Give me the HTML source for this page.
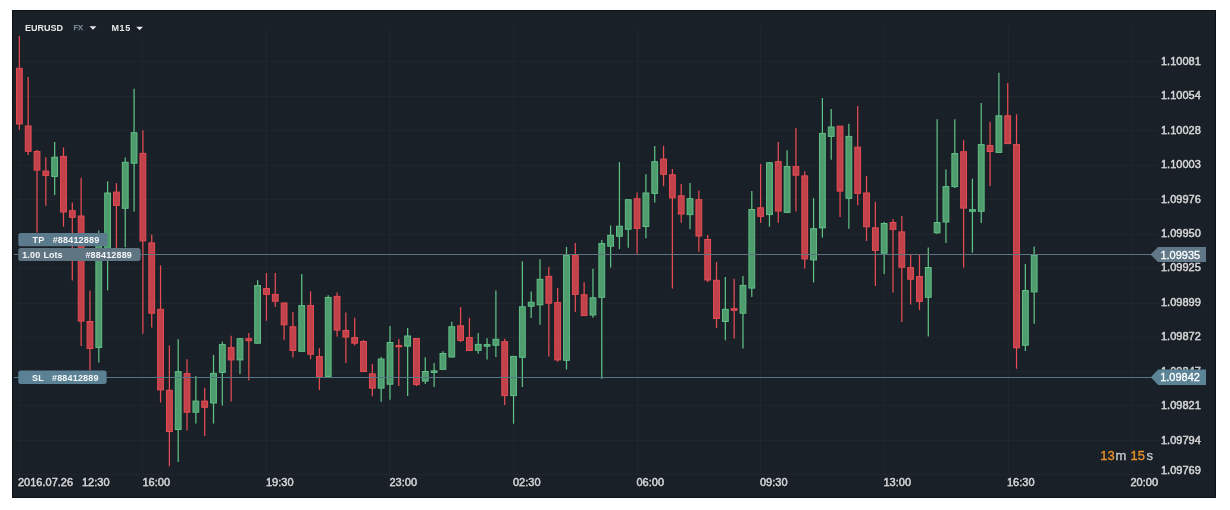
<!DOCTYPE html>
<html><head><meta charset="utf-8"><style>
html,body{margin:0;padding:0;background:#ffffff;width:1230px;height:510px;overflow:hidden}
#chart{position:absolute;left:12px;top:10px;width:1204px;height:488px;background:#1a2027;box-shadow:inset 0 0 0 1px #0c1116;}
svg{position:absolute;left:0;top:0;will-change:transform}
text{font-family:"Liberation Sans",sans-serif}
.ax{font-size:11px;fill:#d2d4d6;stroke:#d2d4d6;stroke-width:0.4px}
.lb{font-size:9px;font-weight:bold;fill:#f4f6f7;letter-spacing:0.18px}
</style></head><body>
<div id="chart"></div>
<svg width="1230" height="510" viewBox="0 0 1230 510">
<defs><filter id="sh" x="-10%" y="-30%" width="120%" height="160%"><feDropShadow dx="0" dy="0.6" stdDeviation="0.6" flood-color="#000" flood-opacity="0.7"/></filter></defs>
<line x1="15" y1="61.5" x2="1159" y2="61.5" stroke="#1f262c" stroke-width="1"/>
<line x1="15" y1="96.5" x2="1159" y2="96.5" stroke="#1f262c" stroke-width="1"/>
<line x1="15" y1="130.5" x2="1159" y2="130.5" stroke="#1f262c" stroke-width="1"/>
<line x1="15" y1="165.5" x2="1159" y2="165.5" stroke="#1f262c" stroke-width="1"/>
<line x1="15" y1="199.5" x2="1159" y2="199.5" stroke="#1f262c" stroke-width="1"/>
<line x1="15" y1="234.5" x2="1159" y2="234.5" stroke="#1f262c" stroke-width="1"/>
<line x1="15" y1="268.5" x2="1159" y2="268.5" stroke="#1f262c" stroke-width="1"/>
<line x1="15" y1="303.5" x2="1159" y2="303.5" stroke="#1f262c" stroke-width="1"/>
<line x1="15" y1="337.5" x2="1159" y2="337.5" stroke="#1f262c" stroke-width="1"/>
<line x1="15" y1="371.5" x2="1159" y2="371.5" stroke="#1f262c" stroke-width="1"/>
<line x1="15" y1="405.5" x2="1159" y2="405.5" stroke="#1f262c" stroke-width="1"/>
<line x1="15" y1="440.5" x2="1159" y2="440.5" stroke="#1f262c" stroke-width="1"/>
<line x1="15" y1="474.5" x2="1159" y2="474.5" stroke="#1f262c" stroke-width="1"/>
<line x1="19.5" y1="27" x2="19.5" y2="474.5" stroke="#1f262c" stroke-width="1"/>
<line x1="142.5" y1="27" x2="142.5" y2="474.5" stroke="#1f262c" stroke-width="1"/>
<line x1="266.5" y1="27" x2="266.5" y2="474.5" stroke="#1f262c" stroke-width="1"/>
<line x1="389.5" y1="27" x2="389.5" y2="474.5" stroke="#1f262c" stroke-width="1"/>
<line x1="513.5" y1="27" x2="513.5" y2="474.5" stroke="#1f262c" stroke-width="1"/>
<line x1="637.5" y1="27" x2="637.5" y2="474.5" stroke="#1f262c" stroke-width="1"/>
<line x1="760.5" y1="27" x2="760.5" y2="474.5" stroke="#1f262c" stroke-width="1"/>
<line x1="884.5" y1="27" x2="884.5" y2="474.5" stroke="#1f262c" stroke-width="1"/>
<line x1="1008.5" y1="27" x2="1008.5" y2="474.5" stroke="#1f262c" stroke-width="1"/>
<line x1="1131.5" y1="27" x2="1131.5" y2="474.5" stroke="#1f262c" stroke-width="1"/>
<rect x="22" y="17" width="140" height="21" fill="#1a2027"/>
<line x1="19.36" y1="35.9" x2="19.36" y2="129.8" stroke="#e64c53" stroke-width="1.25"/>
<rect x="16.46" y="68.3" width="5.80" height="55.7" fill="#c1424a" stroke="#e64c53" stroke-width="1"/>
<line x1="28.18" y1="77.0" x2="28.18" y2="154.9" stroke="#e64c53" stroke-width="1.25"/>
<rect x="25.28" y="126.0" width="5.80" height="25.3" fill="#c1424a" stroke="#e64c53" stroke-width="1"/>
<line x1="37.01" y1="149.8" x2="37.01" y2="232.5" stroke="#e64c53" stroke-width="1.25"/>
<rect x="34.11" y="151.5" width="5.80" height="18.6" fill="#c1424a" stroke="#e64c53" stroke-width="1"/>
<line x1="45.83" y1="157.3" x2="45.83" y2="205.7" stroke="#e64c53" stroke-width="1.25"/>
<rect x="42.93" y="171.1" width="5.80" height="4.3" fill="#c1424a" stroke="#e64c53" stroke-width="1"/>
<line x1="54.66" y1="142.0" x2="54.66" y2="195.1" stroke="#60c085" stroke-width="1.25"/>
<rect x="51.76" y="157.2" width="5.80" height="19.2" fill="#4f9c6e" stroke="#60c085" stroke-width="1"/>
<line x1="63.48" y1="147.5" x2="63.48" y2="226.7" stroke="#e64c53" stroke-width="1.25"/>
<rect x="60.58" y="156.4" width="5.80" height="55.6" fill="#c1424a" stroke="#e64c53" stroke-width="1"/>
<line x1="72.31" y1="202.4" x2="72.31" y2="280.6" stroke="#e64c53" stroke-width="1.25"/>
<rect x="69.41" y="210.7" width="5.80" height="6.6" fill="#c1424a" stroke="#e64c53" stroke-width="1"/>
<line x1="81.13" y1="177.8" x2="81.13" y2="346.1" stroke="#e64c53" stroke-width="1.25"/>
<rect x="78.23" y="216.0" width="5.80" height="105.1" fill="#c1424a" stroke="#e64c53" stroke-width="1"/>
<line x1="89.96" y1="290.4" x2="89.96" y2="370.6" stroke="#e64c53" stroke-width="1.25"/>
<rect x="87.06" y="321.5" width="5.80" height="27.0" fill="#c1424a" stroke="#e64c53" stroke-width="1"/>
<line x1="98.78" y1="230.6" x2="98.78" y2="362.4" stroke="#60c085" stroke-width="1.25"/>
<rect x="95.88" y="240.5" width="5.80" height="107.0" fill="#4f9c6e" stroke="#60c085" stroke-width="1"/>
<line x1="107.61" y1="181.4" x2="107.61" y2="290.4" stroke="#60c085" stroke-width="1.25"/>
<rect x="104.71" y="193.0" width="5.80" height="56.5" fill="#4f9c6e" stroke="#60c085" stroke-width="1"/>
<line x1="116.43" y1="183.1" x2="116.43" y2="248.0" stroke="#e64c53" stroke-width="1.25"/>
<rect x="113.53" y="192.1" width="5.80" height="13.3" fill="#c1424a" stroke="#e64c53" stroke-width="1"/>
<line x1="125.26" y1="157.6" x2="125.26" y2="247.3" stroke="#60c085" stroke-width="1.25"/>
<rect x="122.36" y="162.3" width="5.80" height="46.0" fill="#4f9c6e" stroke="#60c085" stroke-width="1"/>
<line x1="134.08" y1="88.8" x2="134.08" y2="211.6" stroke="#60c085" stroke-width="1.25"/>
<rect x="131.18" y="132.7" width="5.80" height="30.5" fill="#4f9c6e" stroke="#60c085" stroke-width="1"/>
<line x1="142.90" y1="130.2" x2="142.90" y2="333.7" stroke="#e64c53" stroke-width="1.25"/>
<rect x="140.00" y="153.4" width="5.80" height="87.5" fill="#c1424a" stroke="#e64c53" stroke-width="1"/>
<line x1="151.73" y1="234.5" x2="151.73" y2="327.5" stroke="#e64c53" stroke-width="1.25"/>
<rect x="148.83" y="242.9" width="5.80" height="70.3" fill="#c1424a" stroke="#e64c53" stroke-width="1"/>
<line x1="160.55" y1="265.3" x2="160.55" y2="402.5" stroke="#e64c53" stroke-width="1.25"/>
<rect x="157.65" y="309.3" width="5.80" height="80.6" fill="#c1424a" stroke="#e64c53" stroke-width="1"/>
<line x1="169.38" y1="345.5" x2="169.38" y2="466.3" stroke="#e64c53" stroke-width="1.25"/>
<rect x="166.48" y="390.3" width="5.80" height="41.2" fill="#c1424a" stroke="#e64c53" stroke-width="1"/>
<line x1="178.20" y1="339.2" x2="178.20" y2="462.0" stroke="#60c085" stroke-width="1.25"/>
<rect x="175.30" y="371.7" width="5.80" height="57.8" fill="#4f9c6e" stroke="#60c085" stroke-width="1"/>
<line x1="187.03" y1="359.2" x2="187.03" y2="430.6" stroke="#e64c53" stroke-width="1.25"/>
<rect x="184.13" y="373.6" width="5.80" height="38.6" fill="#c1424a" stroke="#e64c53" stroke-width="1"/>
<line x1="195.85" y1="376.0" x2="195.85" y2="423.5" stroke="#60c085" stroke-width="1.25"/>
<rect x="192.95" y="401.1" width="5.80" height="11.1" fill="#4f9c6e" stroke="#60c085" stroke-width="1"/>
<line x1="204.68" y1="387.8" x2="204.68" y2="435.9" stroke="#e64c53" stroke-width="1.25"/>
<rect x="201.78" y="401.1" width="5.80" height="6.2" fill="#c1424a" stroke="#e64c53" stroke-width="1"/>
<line x1="213.50" y1="354.9" x2="213.50" y2="423.5" stroke="#60c085" stroke-width="1.25"/>
<rect x="210.60" y="373.4" width="5.80" height="29.6" fill="#4f9c6e" stroke="#60c085" stroke-width="1"/>
<line x1="222.33" y1="341.8" x2="222.33" y2="405.5" stroke="#60c085" stroke-width="1.25"/>
<rect x="219.43" y="344.6" width="5.80" height="27.8" fill="#4f9c6e" stroke="#60c085" stroke-width="1"/>
<line x1="231.15" y1="335.7" x2="231.15" y2="401.6" stroke="#e64c53" stroke-width="1.25"/>
<rect x="228.25" y="347.6" width="5.80" height="12.3" fill="#c1424a" stroke="#e64c53" stroke-width="1"/>
<line x1="239.98" y1="338.2" x2="239.98" y2="374.1" stroke="#60c085" stroke-width="1.25"/>
<rect x="237.08" y="338.7" width="5.80" height="21.2" fill="#4f9c6e" stroke="#60c085" stroke-width="1"/>
<line x1="248.80" y1="332.9" x2="248.80" y2="380.4" stroke="#e64c53" stroke-width="1.25"/>
<rect x="245.90" y="338.7" width="5.80" height="2.0" fill="#c1424a" stroke="#e64c53" stroke-width="1"/>
<line x1="257.62" y1="280.2" x2="257.62" y2="343.7" stroke="#60c085" stroke-width="1.25"/>
<rect x="254.72" y="285.6" width="5.80" height="57.6" fill="#4f9c6e" stroke="#60c085" stroke-width="1"/>
<line x1="266.45" y1="273.1" x2="266.45" y2="320.8" stroke="#e64c53" stroke-width="1.25"/>
<rect x="263.55" y="288.5" width="5.80" height="5.9" fill="#c1424a" stroke="#e64c53" stroke-width="1"/>
<line x1="275.27" y1="273.1" x2="275.27" y2="307.1" stroke="#e64c53" stroke-width="1.25"/>
<rect x="272.37" y="294.4" width="5.80" height="6.9" fill="#c1424a" stroke="#e64c53" stroke-width="1"/>
<line x1="284.10" y1="302.5" x2="284.10" y2="340.0" stroke="#e64c53" stroke-width="1.25"/>
<rect x="281.20" y="303.0" width="5.80" height="21.8" fill="#c1424a" stroke="#e64c53" stroke-width="1"/>
<line x1="292.92" y1="312.0" x2="292.92" y2="357.5" stroke="#e64c53" stroke-width="1.25"/>
<rect x="290.02" y="326.8" width="5.80" height="23.7" fill="#c1424a" stroke="#e64c53" stroke-width="1"/>
<line x1="301.75" y1="274.1" x2="301.75" y2="351.8" stroke="#60c085" stroke-width="1.25"/>
<rect x="298.85" y="305.6" width="5.80" height="45.7" fill="#4f9c6e" stroke="#60c085" stroke-width="1"/>
<line x1="310.57" y1="291.4" x2="310.57" y2="359.3" stroke="#e64c53" stroke-width="1.25"/>
<rect x="307.67" y="305.6" width="5.80" height="48.6" fill="#c1424a" stroke="#e64c53" stroke-width="1"/>
<line x1="319.40" y1="348.2" x2="319.40" y2="390.0" stroke="#e64c53" stroke-width="1.25"/>
<rect x="316.50" y="356.6" width="5.80" height="19.8" fill="#c1424a" stroke="#e64c53" stroke-width="1"/>
<line x1="328.22" y1="295.3" x2="328.22" y2="376.9" stroke="#60c085" stroke-width="1.25"/>
<rect x="325.32" y="297.4" width="5.80" height="79.0" fill="#4f9c6e" stroke="#60c085" stroke-width="1"/>
<line x1="337.05" y1="292.4" x2="337.05" y2="336.5" stroke="#e64c53" stroke-width="1.25"/>
<rect x="334.15" y="296.4" width="5.80" height="33.7" fill="#c1424a" stroke="#e64c53" stroke-width="1"/>
<line x1="345.87" y1="312.5" x2="345.87" y2="362.9" stroke="#e64c53" stroke-width="1.25"/>
<rect x="342.97" y="330.5" width="5.80" height="6.5" fill="#c1424a" stroke="#e64c53" stroke-width="1"/>
<line x1="354.69" y1="317.8" x2="354.69" y2="345.6" stroke="#e64c53" stroke-width="1.25"/>
<rect x="351.79" y="337.6" width="5.80" height="5.6" fill="#c1424a" stroke="#e64c53" stroke-width="1"/>
<line x1="363.52" y1="340.0" x2="363.52" y2="372.0" stroke="#e64c53" stroke-width="1.25"/>
<rect x="360.62" y="341.5" width="5.80" height="30.0" fill="#c1424a" stroke="#e64c53" stroke-width="1"/>
<line x1="372.34" y1="363.9" x2="372.34" y2="396.3" stroke="#e64c53" stroke-width="1.25"/>
<rect x="369.44" y="373.8" width="5.80" height="14.3" fill="#c1424a" stroke="#e64c53" stroke-width="1"/>
<line x1="381.17" y1="357.0" x2="381.17" y2="401.8" stroke="#60c085" stroke-width="1.25"/>
<rect x="378.27" y="359.1" width="5.80" height="29.0" fill="#4f9c6e" stroke="#60c085" stroke-width="1"/>
<line x1="389.99" y1="326.1" x2="389.99" y2="399.8" stroke="#60c085" stroke-width="1.25"/>
<rect x="387.09" y="342.5" width="5.80" height="41.7" fill="#4f9c6e" stroke="#60c085" stroke-width="1"/>
<line x1="398.82" y1="339.0" x2="398.82" y2="386.1" stroke="#e64c53" stroke-width="1.25"/>
<rect x="395.92" y="345.5" width="5.80" height="1.3" fill="#c1424a" stroke="#e64c53" stroke-width="1"/>
<line x1="407.64" y1="328.0" x2="407.64" y2="395.9" stroke="#60c085" stroke-width="1.25"/>
<rect x="404.74" y="336.0" width="5.80" height="10.1" fill="#4f9c6e" stroke="#60c085" stroke-width="1"/>
<line x1="416.47" y1="338.0" x2="416.47" y2="386.0" stroke="#e64c53" stroke-width="1.25"/>
<rect x="413.57" y="338.5" width="5.80" height="46.1" fill="#c1424a" stroke="#e64c53" stroke-width="1"/>
<line x1="425.29" y1="357.3" x2="425.29" y2="384.1" stroke="#60c085" stroke-width="1.25"/>
<rect x="422.39" y="371.5" width="5.80" height="9.6" fill="#4f9c6e" stroke="#60c085" stroke-width="1"/>
<line x1="434.12" y1="363.1" x2="434.12" y2="387.1" stroke="#60c085" stroke-width="1.25"/>
<rect x="431.22" y="370.9" width="5.80" height="1.5" fill="#4f9c6e" stroke="#60c085" stroke-width="1"/>
<line x1="442.94" y1="351.2" x2="442.94" y2="369.8" stroke="#60c085" stroke-width="1.25"/>
<rect x="440.04" y="353.5" width="5.80" height="15.8" fill="#4f9c6e" stroke="#60c085" stroke-width="1"/>
<line x1="451.77" y1="321.8" x2="451.77" y2="357.5" stroke="#60c085" stroke-width="1.25"/>
<rect x="448.87" y="326.8" width="5.80" height="30.2" fill="#4f9c6e" stroke="#60c085" stroke-width="1"/>
<line x1="460.59" y1="307.1" x2="460.59" y2="342.0" stroke="#e64c53" stroke-width="1.25"/>
<rect x="457.69" y="325.8" width="5.80" height="14.6" fill="#c1424a" stroke="#e64c53" stroke-width="1"/>
<line x1="469.41" y1="317.8" x2="469.41" y2="351.0" stroke="#e64c53" stroke-width="1.25"/>
<rect x="466.51" y="337.6" width="5.80" height="12.9" fill="#c1424a" stroke="#e64c53" stroke-width="1"/>
<line x1="478.24" y1="333.0" x2="478.24" y2="353.7" stroke="#60c085" stroke-width="1.25"/>
<rect x="475.34" y="344.4" width="5.80" height="5.9" fill="#4f9c6e" stroke="#60c085" stroke-width="1"/>
<line x1="487.06" y1="338.2" x2="487.06" y2="359.4" stroke="#60c085" stroke-width="1.25"/>
<rect x="484.16" y="344.6" width="5.80" height="1.6" fill="#4f9c6e" stroke="#60c085" stroke-width="1"/>
<line x1="495.89" y1="290.6" x2="495.89" y2="356.9" stroke="#60c085" stroke-width="1.25"/>
<rect x="492.99" y="339.3" width="5.80" height="5.9" fill="#4f9c6e" stroke="#60c085" stroke-width="1"/>
<line x1="504.71" y1="338.8" x2="504.71" y2="405.1" stroke="#e64c53" stroke-width="1.25"/>
<rect x="501.81" y="341.7" width="5.80" height="53.9" fill="#c1424a" stroke="#e64c53" stroke-width="1"/>
<line x1="513.54" y1="355.9" x2="513.54" y2="423.7" stroke="#60c085" stroke-width="1.25"/>
<rect x="510.64" y="356.4" width="5.80" height="39.2" fill="#4f9c6e" stroke="#60c085" stroke-width="1"/>
<line x1="522.36" y1="261.2" x2="522.36" y2="386.9" stroke="#60c085" stroke-width="1.25"/>
<rect x="519.46" y="306.8" width="5.80" height="50.5" fill="#4f9c6e" stroke="#60c085" stroke-width="1"/>
<line x1="531.19" y1="291.4" x2="531.19" y2="318.0" stroke="#60c085" stroke-width="1.25"/>
<rect x="528.29" y="302.3" width="5.80" height="3.9" fill="#4f9c6e" stroke="#60c085" stroke-width="1"/>
<line x1="540.01" y1="259.2" x2="540.01" y2="324.7" stroke="#60c085" stroke-width="1.25"/>
<rect x="537.11" y="279.3" width="5.80" height="25.5" fill="#4f9c6e" stroke="#60c085" stroke-width="1"/>
<line x1="548.84" y1="266.9" x2="548.84" y2="356.5" stroke="#e64c53" stroke-width="1.25"/>
<rect x="545.94" y="276.4" width="5.80" height="26.8" fill="#c1424a" stroke="#e64c53" stroke-width="1"/>
<line x1="557.66" y1="288.0" x2="557.66" y2="361.8" stroke="#e64c53" stroke-width="1.25"/>
<rect x="554.76" y="302.5" width="5.80" height="57.4" fill="#c1424a" stroke="#e64c53" stroke-width="1"/>
<line x1="566.49" y1="246.9" x2="566.49" y2="369.6" stroke="#60c085" stroke-width="1.25"/>
<rect x="563.59" y="255.6" width="5.80" height="104.7" fill="#4f9c6e" stroke="#60c085" stroke-width="1"/>
<line x1="575.31" y1="242.9" x2="575.31" y2="312.0" stroke="#e64c53" stroke-width="1.25"/>
<rect x="572.41" y="255.6" width="5.80" height="38.8" fill="#c1424a" stroke="#e64c53" stroke-width="1"/>
<line x1="584.13" y1="282.2" x2="584.13" y2="316.1" stroke="#e64c53" stroke-width="1.25"/>
<rect x="581.23" y="294.8" width="5.80" height="20.8" fill="#c1424a" stroke="#e64c53" stroke-width="1"/>
<line x1="592.96" y1="268.8" x2="592.96" y2="317.8" stroke="#60c085" stroke-width="1.25"/>
<rect x="590.06" y="297.8" width="5.80" height="17.2" fill="#4f9c6e" stroke="#60c085" stroke-width="1"/>
<line x1="601.78" y1="240.0" x2="601.78" y2="379.0" stroke="#60c085" stroke-width="1.25"/>
<rect x="598.88" y="243.6" width="5.80" height="53.7" fill="#4f9c6e" stroke="#60c085" stroke-width="1"/>
<line x1="610.61" y1="225.5" x2="610.61" y2="267.5" stroke="#60c085" stroke-width="1.25"/>
<rect x="607.71" y="235.3" width="5.80" height="10.9" fill="#4f9c6e" stroke="#60c085" stroke-width="1"/>
<line x1="619.43" y1="162.2" x2="619.43" y2="249.0" stroke="#60c085" stroke-width="1.25"/>
<rect x="616.53" y="226.2" width="5.80" height="10.0" fill="#4f9c6e" stroke="#60c085" stroke-width="1"/>
<line x1="628.26" y1="199.2" x2="628.26" y2="247.7" stroke="#60c085" stroke-width="1.25"/>
<rect x="625.36" y="199.7" width="5.80" height="29.5" fill="#4f9c6e" stroke="#60c085" stroke-width="1"/>
<line x1="637.08" y1="192.4" x2="637.08" y2="253.7" stroke="#e64c53" stroke-width="1.25"/>
<rect x="634.18" y="198.7" width="5.80" height="29.7" fill="#c1424a" stroke="#e64c53" stroke-width="1"/>
<line x1="645.91" y1="174.3" x2="645.91" y2="238.2" stroke="#60c085" stroke-width="1.25"/>
<rect x="643.01" y="193.0" width="5.80" height="33.5" fill="#4f9c6e" stroke="#60c085" stroke-width="1"/>
<line x1="654.73" y1="145.9" x2="654.73" y2="202.6" stroke="#60c085" stroke-width="1.25"/>
<rect x="651.83" y="161.7" width="5.80" height="31.7" fill="#4f9c6e" stroke="#60c085" stroke-width="1"/>
<line x1="663.56" y1="145.9" x2="663.56" y2="186.1" stroke="#e64c53" stroke-width="1.25"/>
<rect x="660.66" y="159.1" width="5.80" height="15.3" fill="#c1424a" stroke="#e64c53" stroke-width="1"/>
<line x1="672.38" y1="169.0" x2="672.38" y2="288.6" stroke="#e64c53" stroke-width="1.25"/>
<rect x="669.48" y="174.8" width="5.80" height="23.1" fill="#c1424a" stroke="#e64c53" stroke-width="1"/>
<line x1="681.21" y1="184.1" x2="681.21" y2="222.7" stroke="#e64c53" stroke-width="1.25"/>
<rect x="678.31" y="195.8" width="5.80" height="18.2" fill="#c1424a" stroke="#e64c53" stroke-width="1"/>
<line x1="690.03" y1="183.1" x2="690.03" y2="229.2" stroke="#60c085" stroke-width="1.25"/>
<rect x="687.13" y="198.7" width="5.80" height="15.9" fill="#4f9c6e" stroke="#60c085" stroke-width="1"/>
<line x1="698.85" y1="190.6" x2="698.85" y2="251.8" stroke="#e64c53" stroke-width="1.25"/>
<rect x="695.95" y="199.7" width="5.80" height="36.3" fill="#c1424a" stroke="#e64c53" stroke-width="1"/>
<line x1="707.68" y1="235.1" x2="707.68" y2="282.3" stroke="#e64c53" stroke-width="1.25"/>
<rect x="704.78" y="239.5" width="5.80" height="40.5" fill="#c1424a" stroke="#e64c53" stroke-width="1"/>
<line x1="716.50" y1="262.1" x2="716.50" y2="328.1" stroke="#e64c53" stroke-width="1.25"/>
<rect x="713.60" y="280.3" width="5.80" height="38.2" fill="#c1424a" stroke="#e64c53" stroke-width="1"/>
<line x1="725.33" y1="276.9" x2="725.33" y2="340.2" stroke="#60c085" stroke-width="1.25"/>
<rect x="722.43" y="309.3" width="5.80" height="12.2" fill="#4f9c6e" stroke="#60c085" stroke-width="1"/>
<line x1="734.15" y1="278.8" x2="734.15" y2="338.6" stroke="#e64c53" stroke-width="1.25"/>
<rect x="731.25" y="308.7" width="5.80" height="1.6" fill="#c1424a" stroke="#e64c53" stroke-width="1"/>
<line x1="742.98" y1="275.9" x2="742.98" y2="348.4" stroke="#60c085" stroke-width="1.25"/>
<rect x="740.08" y="285.4" width="5.80" height="27.8" fill="#4f9c6e" stroke="#60c085" stroke-width="1"/>
<line x1="751.80" y1="191.0" x2="751.80" y2="297.1" stroke="#60c085" stroke-width="1.25"/>
<rect x="748.90" y="209.5" width="5.80" height="78.6" fill="#4f9c6e" stroke="#60c085" stroke-width="1"/>
<line x1="760.63" y1="164.1" x2="760.63" y2="222.7" stroke="#e64c53" stroke-width="1.25"/>
<rect x="757.73" y="207.8" width="5.80" height="8.6" fill="#c1424a" stroke="#e64c53" stroke-width="1"/>
<line x1="769.45" y1="162.2" x2="769.45" y2="226.7" stroke="#60c085" stroke-width="1.25"/>
<rect x="766.55" y="162.7" width="5.80" height="51.9" fill="#4f9c6e" stroke="#60c085" stroke-width="1"/>
<line x1="778.28" y1="142.0" x2="778.28" y2="222.7" stroke="#e64c53" stroke-width="1.25"/>
<rect x="775.38" y="161.7" width="5.80" height="49.4" fill="#c1424a" stroke="#e64c53" stroke-width="1"/>
<line x1="787.10" y1="150.2" x2="787.10" y2="212.9" stroke="#60c085" stroke-width="1.25"/>
<rect x="784.20" y="166.6" width="5.80" height="45.8" fill="#4f9c6e" stroke="#60c085" stroke-width="1"/>
<line x1="795.92" y1="128.0" x2="795.92" y2="211.6" stroke="#e64c53" stroke-width="1.25"/>
<rect x="793.02" y="166.6" width="5.80" height="8.6" fill="#c1424a" stroke="#e64c53" stroke-width="1"/>
<line x1="804.75" y1="171.3" x2="804.75" y2="268.6" stroke="#e64c53" stroke-width="1.25"/>
<rect x="801.85" y="175.9" width="5.80" height="83.0" fill="#c1424a" stroke="#e64c53" stroke-width="1"/>
<line x1="813.57" y1="198.1" x2="813.57" y2="282.4" stroke="#60c085" stroke-width="1.25"/>
<rect x="810.67" y="228.7" width="5.80" height="31.2" fill="#4f9c6e" stroke="#60c085" stroke-width="1"/>
<line x1="822.40" y1="98.0" x2="822.40" y2="237.6" stroke="#60c085" stroke-width="1.25"/>
<rect x="819.50" y="133.4" width="5.80" height="94.5" fill="#4f9c6e" stroke="#60c085" stroke-width="1"/>
<line x1="831.22" y1="109.0" x2="831.22" y2="159.8" stroke="#60c085" stroke-width="1.25"/>
<rect x="828.32" y="127.0" width="5.80" height="9.4" fill="#4f9c6e" stroke="#60c085" stroke-width="1"/>
<line x1="840.05" y1="125.7" x2="840.05" y2="217.1" stroke="#e64c53" stroke-width="1.25"/>
<rect x="837.15" y="126.2" width="5.80" height="64.9" fill="#c1424a" stroke="#e64c53" stroke-width="1"/>
<line x1="848.87" y1="123.7" x2="848.87" y2="228.8" stroke="#60c085" stroke-width="1.25"/>
<rect x="845.97" y="136.4" width="5.80" height="61.9" fill="#4f9c6e" stroke="#60c085" stroke-width="1"/>
<line x1="857.70" y1="106.1" x2="857.70" y2="205.3" stroke="#e64c53" stroke-width="1.25"/>
<rect x="854.80" y="147.2" width="5.80" height="46.2" fill="#c1424a" stroke="#e64c53" stroke-width="1"/>
<line x1="866.52" y1="175.9" x2="866.52" y2="241.0" stroke="#e64c53" stroke-width="1.25"/>
<rect x="863.62" y="193.0" width="5.80" height="33.8" fill="#c1424a" stroke="#e64c53" stroke-width="1"/>
<line x1="875.35" y1="201.8" x2="875.35" y2="285.9" stroke="#e64c53" stroke-width="1.25"/>
<rect x="872.45" y="227.8" width="5.80" height="22.6" fill="#c1424a" stroke="#e64c53" stroke-width="1"/>
<line x1="884.17" y1="222.0" x2="884.17" y2="274.0" stroke="#60c085" stroke-width="1.25"/>
<rect x="881.27" y="223.5" width="5.80" height="29.7" fill="#4f9c6e" stroke="#60c085" stroke-width="1"/>
<line x1="893.00" y1="219.0" x2="893.00" y2="292.5" stroke="#e64c53" stroke-width="1.25"/>
<rect x="890.10" y="222.5" width="5.80" height="6.8" fill="#c1424a" stroke="#e64c53" stroke-width="1"/>
<line x1="901.82" y1="216.1" x2="901.82" y2="322.0" stroke="#e64c53" stroke-width="1.25"/>
<rect x="898.92" y="231.9" width="5.80" height="35.3" fill="#c1424a" stroke="#e64c53" stroke-width="1"/>
<line x1="910.64" y1="254.7" x2="910.64" y2="304.5" stroke="#e64c53" stroke-width="1.25"/>
<rect x="907.74" y="267.6" width="5.80" height="11.6" fill="#c1424a" stroke="#e64c53" stroke-width="1"/>
<line x1="919.47" y1="254.7" x2="919.47" y2="310.0" stroke="#e64c53" stroke-width="1.25"/>
<rect x="916.57" y="276.5" width="5.80" height="24.9" fill="#c1424a" stroke="#e64c53" stroke-width="1"/>
<line x1="928.29" y1="247.5" x2="928.29" y2="336.5" stroke="#60c085" stroke-width="1.25"/>
<rect x="925.39" y="267.5" width="5.80" height="29.8" fill="#4f9c6e" stroke="#60c085" stroke-width="1"/>
<line x1="937.12" y1="119.2" x2="937.12" y2="234.0" stroke="#60c085" stroke-width="1.25"/>
<rect x="934.22" y="222.5" width="5.80" height="10.3" fill="#4f9c6e" stroke="#60c085" stroke-width="1"/>
<line x1="945.94" y1="169.6" x2="945.94" y2="242.9" stroke="#60c085" stroke-width="1.25"/>
<rect x="943.04" y="186.6" width="5.80" height="35.4" fill="#4f9c6e" stroke="#60c085" stroke-width="1"/>
<line x1="954.77" y1="119.2" x2="954.77" y2="188.0" stroke="#60c085" stroke-width="1.25"/>
<rect x="951.87" y="153.6" width="5.80" height="33.0" fill="#4f9c6e" stroke="#60c085" stroke-width="1"/>
<line x1="963.59" y1="140.2" x2="963.59" y2="267.7" stroke="#e64c53" stroke-width="1.25"/>
<rect x="960.69" y="151.7" width="5.80" height="56.4" fill="#c1424a" stroke="#e64c53" stroke-width="1"/>
<line x1="972.42" y1="178.8" x2="972.42" y2="252.7" stroke="#60c085" stroke-width="1.25"/>
<rect x="969.52" y="209.7" width="5.80" height="1.6" fill="#4f9c6e" stroke="#60c085" stroke-width="1"/>
<line x1="981.24" y1="103.1" x2="981.24" y2="222.9" stroke="#60c085" stroke-width="1.25"/>
<rect x="978.34" y="144.6" width="5.80" height="66.7" fill="#4f9c6e" stroke="#60c085" stroke-width="1"/>
<line x1="990.07" y1="121.8" x2="990.07" y2="186.1" stroke="#e64c53" stroke-width="1.25"/>
<rect x="987.17" y="145.6" width="5.80" height="5.9" fill="#c1424a" stroke="#e64c53" stroke-width="1"/>
<line x1="998.89" y1="72.8" x2="998.89" y2="152.9" stroke="#60c085" stroke-width="1.25"/>
<rect x="995.99" y="115.8" width="5.80" height="36.6" fill="#4f9c6e" stroke="#60c085" stroke-width="1"/>
<line x1="1007.72" y1="83.1" x2="1007.72" y2="144.1" stroke="#e64c53" stroke-width="1.25"/>
<rect x="1004.82" y="115.8" width="5.80" height="27.8" fill="#c1424a" stroke="#e64c53" stroke-width="1"/>
<line x1="1016.54" y1="114.3" x2="1016.54" y2="368.7" stroke="#e64c53" stroke-width="1.25"/>
<rect x="1013.64" y="144.6" width="5.80" height="203.2" fill="#c1424a" stroke="#e64c53" stroke-width="1"/>
<line x1="1025.36" y1="264.0" x2="1025.36" y2="351.1" stroke="#60c085" stroke-width="1.25"/>
<rect x="1022.46" y="290.5" width="5.80" height="54.7" fill="#4f9c6e" stroke="#60c085" stroke-width="1"/>
<line x1="1034.19" y1="246.5" x2="1034.19" y2="323.7" stroke="#60c085" stroke-width="1.25"/>
<rect x="1031.29" y="255.2" width="5.80" height="36.7" fill="#4f9c6e" stroke="#60c085" stroke-width="1"/>
<!-- position line -->
<line x1="14" y1="254.5" x2="1151" y2="254.5" stroke="#5f7380" stroke-width="1"/>
<line x1="14" y1="377.5" x2="1151" y2="377.5" stroke="#557888" stroke-width="1"/>
<g filter="url(#sh)">
<text x="1161" y="64.9" class="ax">1.10081</text><text x="1161" y="99.3" class="ax">1.10054</text><text x="1161" y="133.7" class="ax">1.10028</text><text x="1161" y="168.2" class="ax">1.10003</text><text x="1161" y="202.6" class="ax">1.09976</text><text x="1161" y="237.0" class="ax">1.09950</text><text x="1161" y="271.4" class="ax">1.09925</text><text x="1161" y="305.8" class="ax">1.09899</text><text x="1161" y="340.3" class="ax">1.09872</text><text x="1161" y="374.7" class="ax">1.09847</text><text x="1161" y="409.1" class="ax">1.09821</text><text x="1161" y="443.5" class="ax">1.09794</text><text x="1161" y="473.6" class="ax">1.09769</text>
<text x="18" y="485.6" class="ax">2016.07.26</text><text x="82" y="485.6" class="ax">12:30</text><text x="142.5" y="485.6" class="ax">16:00</text><text x="266.0" y="485.6" class="ax">19:30</text><text x="389.5" y="485.6" class="ax">23:00</text><text x="513.0" y="485.6" class="ax">02:30</text><text x="636.5" y="485.6" class="ax">06:00</text><text x="760.0" y="485.6" class="ax">09:30</text><text x="883.5" y="485.6" class="ax">13:00</text><text x="1007.0" y="485.6" class="ax">16:30</text><text x="1130.5" y="485.6" class="ax">20:00</text>
</g>
<!-- left labels -->
<rect x="18.3" y="233.1" width="89.1" height="13.1" rx="2.5" fill="#5b7a8b"/>
<text x="32.5" y="242.8" class="lb">TP</text><text x="52.7" y="242.8" class="lb">#88412889</text>
<rect x="18.3" y="247.9" width="122.3" height="13.1" rx="2.5" fill="#5f7582"/>
<text x="22.2" y="257.6" class="lb">1.00</text><text x="43.6" y="257.6" class="lb" style="letter-spacing:0">Lots</text><text x="85.4" y="257.6" class="lb">#88412889</text>
<rect x="18.3" y="370.6" width="88.3" height="13.4" rx="2.5" fill="#5b8294"/>
<text x="32" y="380.6" class="lb">SL</text><text x="52" y="380.6" class="lb">#88412889</text>
<!-- right price tags -->
<polygon points="1150.5,254.5 1158,247 1206,247 1206,262 1158,262" fill="#607887"/>
<text x="1160.4" y="258.5" class="ax" style="fill:#ffffff;stroke:#ffffff;stroke-width:0.3px">1.09935</text>
<polygon points="1150.8,377.3 1158.2,369.5 1206,369.5 1206,385 1158.2,385" fill="#5b8496"/>
<text x="1160.2" y="381.3" class="ax" style="fill:#ffffff;stroke:#ffffff;stroke-width:0.3px">1.09842</text>
<!-- header -->
<text x="25" y="30.7" style="font-size:9px;font-weight:bold;fill:#e6e8ea">EURUSD</text>
<text x="73.4" y="30.1" style="font-size:7.5px;font-weight:bold;fill:#738390;stroke:#738390;stroke-width:0.25px">FX</text>
<polygon points="89.5,26.2 96.4,26.2 93,29.8" fill="#e6e8ea"/>
<text x="111.5" y="30.7" style="font-size:9px;font-weight:bold;fill:#e6e8ea;letter-spacing:0.6px">M15</text>
<polygon points="136.2,26.8 143,26.8 139.6,30.2" fill="#e6e8ea"/>
<!-- timer -->
<text x="1100.2" y="460.3" style="font-size:13px;fill:#e8912b;stroke:#e8912b;stroke-width:0.35px">13</text>
<text x="1115.4" y="460.3" style="font-size:13px;fill:#c3c7cb;stroke:#c3c7cb;stroke-width:0.35px">m</text>
<text x="1130.6" y="460.3" style="font-size:13px;fill:#e8912b;stroke:#e8912b;stroke-width:0.35px">15</text>
<text x="1146.4" y="460.3" style="font-size:13px;fill:#c3c7cb;stroke:#c3c7cb;stroke-width:0.35px">s</text>
</svg>
</body></html>
